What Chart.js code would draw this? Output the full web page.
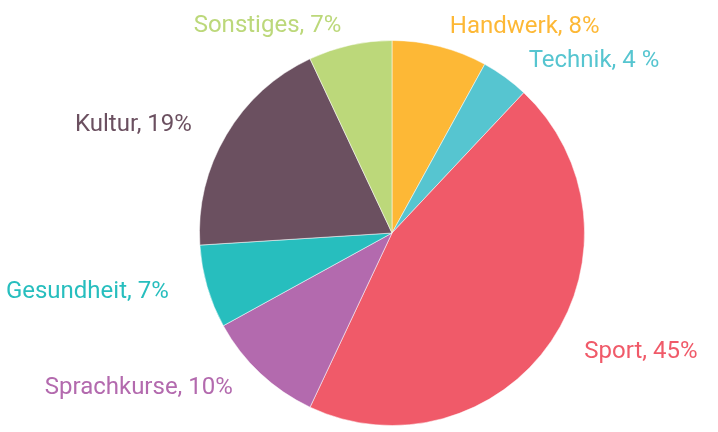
<!DOCTYPE html>
<html>
<head>
<meta charset="utf-8">
<script src="https://cdn.jsdelivr.net/npm/chart.js@4/dist/chart.umd.min.js"></script>
<style>
  html, body { margin: 0; padding: 0; background: #fff; }
  #wrap { width: 718px; height: 432px; }
</style>
</head>
<body>
<div id="wrap"><canvas id="myChart"></canvas></div>
<script>
// data, clockwise from 12 o'clock
var categories = ['Handwerk', 'Technik', 'Sport', 'Sprachkurse', 'Gesundheit', 'Kultur', 'Sonstiges'];
var shares = [8, 4, 45, 10, 7, 19, 7];
var labelTexts = ['Handwerk, 8%', 'Technik, 4 %', 'Sport, 45%', 'Sprachkurse, 10%', 'Gesundheit, 7%', 'Kultur, 19%', 'Sonstiges, 7%'];
var colors = ['#FDB836', '#56C5D0', '#F05A69', '#B36AAE', '#27BEBE', '#6B5060', '#BCD87A'];

// draws the coloured text labels outside each slice
var outsideLabels = {
  id: 'outsideLabels',
  afterDatasetsDraw: function(chart) {
    var ctx = chart.ctx;
    var meta = chart.getDatasetMeta(0);
    ctx.save();
    ctx.font = '24px Roboto';
    ctx.textBaseline = 'middle';
    meta.data.forEach(function(arc, i) {
      var mid = (arc.startAngle + arc.endAngle) / 2;
      // labels sit on a slightly flattened ring around the pie
      var x = arc.x + Math.cos(mid) * (arc.outerRadius + 40);
      var y = arc.y + Math.sin(mid) * (arc.outerRadius + 20);
      ctx.textAlign = Math.cos(mid) >= 0 ? 'left' : 'right';
      ctx.fillStyle = colors[i];
      ctx.fillText(labelTexts[i], x, y);
    });
    ctx.restore();
  }
};

var ctx = document.getElementById('myChart').getContext('2d');
var myPie = new Chart(ctx, {
  type: 'pie',
  data: {
    labels: categories,
    datasets: [{
      data: shares,
      backgroundColor: colors,
      borderColor: 'rgba(255,255,255,0.5)',
      borderWidth: 1
    }]
  },
  options: {
    responsive: true,
    maintainAspectRatio: false,
    animation: false,
    layout: { padding: { top: 40, bottom: 6, left: 66, right: 0 } },
    plugins: {
      legend: { display: false },
      tooltip: { enabled: false }
    }
  },
  plugins: [outsideLabels]
});
</script>
</body>
</html>
